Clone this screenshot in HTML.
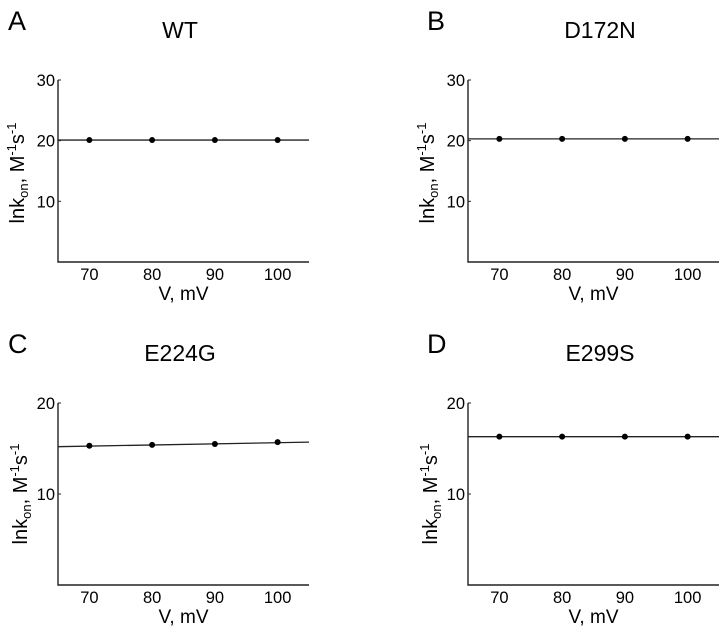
<!DOCTYPE html>
<html><head><meta charset="utf-8"><style>
body{margin:0;background:#fff;width:720px;height:630px;overflow:hidden}
svg{font-family:"Liberation Sans",sans-serif}
</style></head><body>
<svg id="c" width="720" height="630"></svg>
<script>
const xTicks=[70,80,90,100];
const panelLetters=["A","B","C","D"];
const panelTitles=["WT","D172N","E224G","E299S"];
const yMaxes=[30,30,20,20];
const yTicksA=[10,20,30];
const yTicksC=[10,20];
const seriesA=[20.1,20.1,20.1,20.1];
const seriesB=[20.3,20.3,20.3,20.3];
const seriesC=[15.3,15.4,15.5,15.7];
const seriesD=[16.3,16.3,16.3,16.3];
const fitA=[20.1,20.1];
const fitB=[20.3,20.3];
const fitC=[15.2,15.7];
const fitD=[16.3,16.3];
const xDomain=[65,105];

const svg=document.getElementById('c');
const NS='http://www.w3.org/2000/svg';
function mk(tag,attrs,parent,text){const e=document.createElementNS(NS,tag);for(const k in attrs)e.setAttribute(k,attrs[k]);if(text!==undefined)e.textContent=text;(parent||svg).appendChild(e);return e;}

const layout=[{ox:0,top:80,bot:262},{ox:410,top:80,bot:262},{ox:0,top:403,bot:585},{ox:410,top:403,bot:585}];
const titleY=[0,0,323,323];
const allSeries=[seriesA,seriesB,seriesC,seriesD];
const allFits=[fitA,fitB,fitC,fitD];
const allYTicks=[yTicksA,yTicksA,yTicksC,yTicksC];

for(let p=0;p<4;p++){
  const L=layout[p],ox=L.ox;
  const g=mk('g',{});
  
  
  const x0=58+ox,x1=309+ox;
  const xs=v=>x0+(v-xDomain[0])/(xDomain[1]-xDomain[0])*(x1-x0);
  const ys=v=>L.bot-v/yMaxes[p]*(L.bot-L.top);
  const ty=titleY[p];
  let t=mk('text',{x:8+ox+(p%2?9:0),y:ty+30,'font-size':27},g,panelLetters[p]);
  
  t=mk('text',{x:(p%2?600:180),y:ty+38,'font-size':23,'text-anchor':'middle'},g,panelTitles[p]);
  
  let a=mk('path',{d:`M${x0},${L.top}V${L.bot}H${x1}`,stroke:'#222','stroke-width':1.4,fill:'none'},g);
  
  allYTicks[p].forEach(v=>{
    const y=ys(v);
    const tk=mk('line',{x1:x0,x2:x0+3,y1:y,y2:y,stroke:'#222'},g);
    
    const l=mk('text',{x:x0-3,y:y+6,'font-size':16.5,'text-anchor':'end'},g,String(v));
    
  });
  xTicks.forEach(v=>{
    const l=mk('text',{x:xs(v),y:L.bot+18,'font-size':16.5,'text-anchor':'middle'},g,String(v));
    
  });
  t=mk('text',{x:(x0+x1)/2,y:L.bot+38,'font-size':19,'text-anchor':'middle'},g,'V, mV');
  
  const cy=(L.top+L.bot)/2+(p<2?2:0), cx=(p<2?24:27)+ox;
  t=mk('text',{transform:`translate(${cx},${cy}) rotate(-90)`,'font-size':20,'text-anchor':'middle'},g);
  
  t.innerHTML='lnk<tspan font-size="13" dy="4">on</tspan><tspan dy="-4">, M</tspan><tspan font-size="13" dy="-8">-1</tspan><tspan dy="8">s</tspan><tspan font-size="13" dy="-8">-1</tspan>';
  const f=allFits[p];
  const fl=mk('line',{x1:x0,x2:x1,y1:ys(f[0]),y2:ys(f[1]),stroke:'#222','stroke-width':1.3},g);
  
  allSeries[p].forEach((v,i)=>{
    const c=mk('circle',{cx:xs(xTicks[i]),cy:ys(v),r:3,fill:'#000'},g);
    
  });
}
</script>
</body></html>
